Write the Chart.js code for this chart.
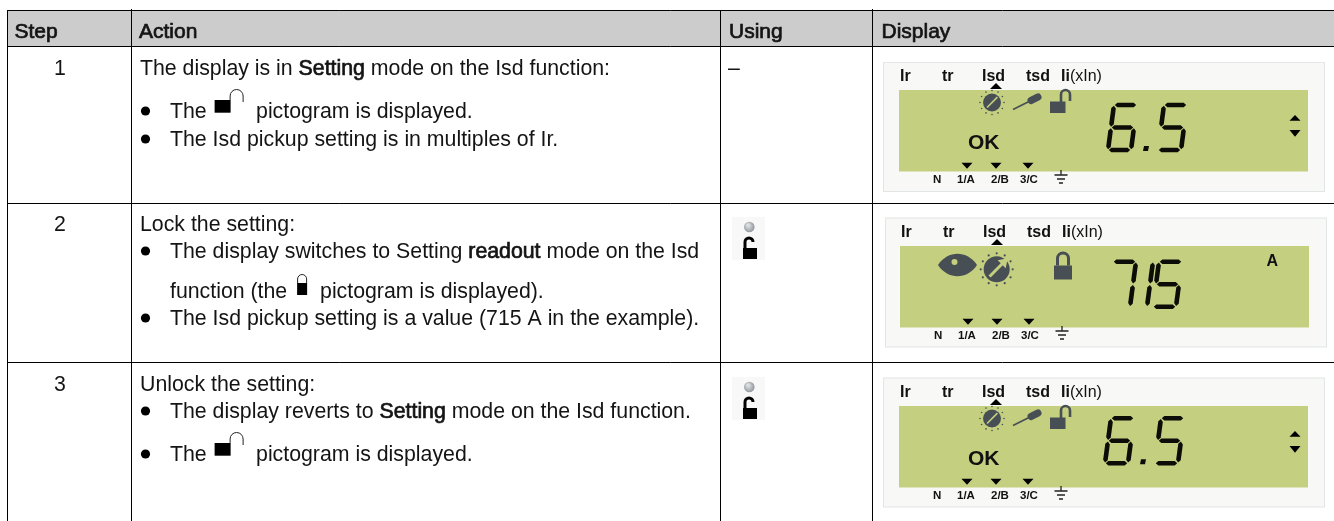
<!DOCTYPE html>
<html>
<head>
<meta charset="utf-8">
<style>
  html, body { margin: 0; background: #fff; }
  canvas { display: block; }
</style>
<script src="https://cdn.jsdelivr.net/npm/chart.js@4/dist/chart.umd.min.js"></script>
</head>
<body>
<canvas id="stepsTable" width="1334" height="521"></canvas>
<script>
// table content
const columnHeaders = ["Step", "Action", "Using", "Display"];
const stepNumbers = ["1", "2", "3"];
const actionIntro = [
  [["The display is in "], ["Setting", true], [" mode on the Isd function:"]],
  [["Lock the setting:"]],
  [["Unlock the setting:"]],
];
const actionBullets = [
  [["The "], ["@open"], [" pictogram is displayed."]],
  [["The Isd pickup setting is in multiples of Ir."]],
  [["The display switches to Setting "], ["readout", true], [" mode on the Isd"]],
  [["function (the "], ["@closed"], [" pictogram is displayed)."]],
  [["The Isd pickup setting is a value (715 A in the example)."]],
  [["The display reverts to "], ["Setting", true], [" mode on the Isd function."]],
  [["The "], ["@open"], [" pictogram is displayed."]],
];
const usingDash = "–";
const lcdTopLabels = ["Ir", "tr", "Isd", "tsd", "Ii"];
const lcdTopSuffix = "(xIn)";
const lcdBottomLabels = ["N", "1/A", "2/B", "3/C"];
const lcdReadings = ["6.5", "715", "6.5"];
const lcdUnits = ["", "A", ""];
const lcdStatus = ["OK", "", "OK"];

// layout, in picture pixels
const columnEdges = [7.5, 131.5, 720.5, 872.5];
const rowEdges = [10.5, 46.5, 203.5, 362.5];
const introBaselines = [75, 231, 391];
const bulletBaselines = [118, 146, 258, 298, 325, 418, 461];
const hasBullet = [true, true, true, false, true, true, true];
const stepBaselines = [75, 231, 391];
const cardOrigins = [[884, 63], [886, 218.5], [884, 378.5]];
const lcdOrigins = [[899, 90], [900, 246], [899, 406]];
const digitOffsets = [[209, 245, 259], [207, 224, 253], [206, 242, 256]];
const digitTops = [15, 15.7, 12.3];
const usingOrigins = [[732, 217], [732, 377]];

const FONT = '"Liberation Sans", Arial, sans-serif';
const INK = "#141414";
const LCD_INK = "#474f55";
const LCD_BG = "#c5cf80";
const BODY_SIZE = 21.3;

function rectSet(x0, y0, x1, y1, color, order) {
  return {
    data: [{ x: x0, y: y0 }, { x: x1, y: y0 }, { x: x1, y: y1 }, { x: x0, y: y1 }, { x: x0, y: y0 }],
    showLine: true, fill: "shape", backgroundColor: color, borderColor: color,
    borderWidth: 0, pointRadius: 0, order, clip: false,
  };
}

function ruleSet() {
  const data = [];
  rowEdges.forEach((y) => {
    data.push({ x: columnEdges[0], y }, { x: 1334, y }, { x: NaN, y: NaN });
  });
  columnEdges.forEach((x, i) => {
    data.push({ x, y: i % 2 ? 9 : rowEdges[0] }, { x, y: 521 }, { x: NaN, y: NaN });
  });
  return { data, showLine: true, borderColor: "#000", borderWidth: 1, pointRadius: 0, order: 1, clip: false };
}

function buildDatasets() {
  const sets = [rectSet(columnEdges[0], rowEdges[0], 1334, rowEdges[1], "#cccccc", 9)];
  cardOrigins.forEach(([x, y]) => {
    sets.push(rectSet(x - 1, y - 1, x + 441, y + 129, "#e2e6e6", 8));
    sets.push(rectSet(x, y, x + 440, y + 128, "#f8f8f6", 7));
  });
  lcdOrigins.forEach(([x, y]) => {
    sets.push(rectSet(x, y, x + 409, y + 81.5, LCD_BG, 6));
  });
  usingOrigins.forEach(([x, y]) => {
    sets.push(rectSet(x, y, x + 33, y + 43, "#f8f8f8", 6));
  });
  sets.push(ruleSet());
  return sets;
}

const tablePlugin = {
  id: "tablePlugin",
  afterDatasetsDraw(chart) {
    const ctx = chart.ctx;
    const X = (v) => chart.scales.x.getPixelForValue(v);
    const Y = (v) => chart.scales.y.getPixelForValue(v);

    function poly(points, color) {
      ctx.fillStyle = color;
      ctx.beginPath();
      points.forEach(([x, y], i) => (i ? ctx.lineTo(X(x), Y(y)) : ctx.moveTo(X(x), Y(y))));
      ctx.closePath();
      ctx.fill();
    }
    function triUp(cx, y0, y1, w) {
      poly([[cx - w / 2, y1], [cx + w / 2, y1], [cx, y0]], "#000");
    }
    function triDown(cx, y0, y1, w) {
      poly([[cx - w / 2, y0], [cx + w / 2, y0], [cx, y1]], "#000");
    }
    function label(text, x, y, font, color) {
      ctx.font = font;
      ctx.fillStyle = color || "#111";
      ctx.fillText(text, X(x), Y(y));
    }
    function strong(text, x, y, size) {
      ctx.font = size + "px " + FONT;
      ctx.fillStyle = INK;
      ctx.strokeStyle = INK;
      ctx.lineWidth = 0.7;
      ctx.fillText(text, X(x), Y(y));
      ctx.strokeText(text, X(x), Y(y));
    }

    // pictograms inside the running text
    function openLock(x, base) {
      ctx.fillStyle = "#000";
      ctx.fillRect(X(x), Y(base - 18), 16, 12.7);
      ctx.strokeStyle = "#222";
      ctx.lineWidth = 1;
      ctx.beginPath();
      ctx.moveTo(X(x + 15.5), Y(base - 18));
      ctx.lineTo(X(x + 15.5), Y(base - 22));
      ctx.arc(X(x + 22), Y(base - 22), 6.5, Math.PI, 0);
      ctx.lineTo(X(x + 28.5), Y(base - 16));
      ctx.stroke();
    }
    function closedLock(x, base) {
      ctx.fillStyle = "#000";
      ctx.fillRect(X(x), Y(base - 15), 10, 12);
      ctx.strokeStyle = "#222";
      ctx.lineWidth = 1;
      ctx.beginPath();
      ctx.moveTo(X(x + 0.5), Y(base - 15));
      ctx.lineTo(X(x + 0.5), Y(base - 19));
      ctx.arc(X(x + 5), Y(base - 19), 4.5, Math.PI, 0);
      ctx.lineTo(X(x + 9.5), Y(base - 15));
      ctx.stroke();
    }

    function textRuns(runs, x, base) {
      let cx = x;
      runs.forEach(([text, bold]) => {
        if (text === "@open") {
          openLock(cx + 2, base);
          cx += 37.5;
          return;
        }
        if (text === "@closed") {
          closedLock(cx + 4, base);
          cx += 21;
          return;
        }
        if (bold) strong(text, cx, base, BODY_SIZE);
        else label(text, cx, base, BODY_SIZE + "px " + FONT, INK);
        cx += ctx.measureText(text).width;
      });
    }

    // seven segment readout
    const SEGMENTS = { 1: "bc", 5: "afgcd", 6: "afgedc", 7: "abc" };
    function segment(x0, y0, x1, y1, t) {
      const dx = x1 - x0;
      const dy = y1 - y0;
      const len = Math.hypot(dx, dy);
      const ux = dx / len;
      const uy = dy / len;
      const nx = -uy * t / 2;
      const ny = ux * t / 2;
      const g = 0.8;
      const ax = x0 + ux * g;
      const ay = y0 + uy * g;
      const bx = x1 - ux * g;
      const by = y1 - uy * g;
      const e = t * 0.55;
      poly([
        [ax, ay],
        [ax + ux * e + nx, ay + uy * e + ny],
        [bx - ux * e + nx, by - uy * e + ny],
        [bx, by],
        [bx - ux * e - nx, by - uy * e - ny],
        [ax + ux * e - nx, ay + uy * e - ny],
      ], "#0b0d06");
    }
    function sevenSeg(ch, x, y) {
      const w = 23;
      const h = 45;
      const slant = 6;
      const P = (u, v) => [x + u * w + (1 - v) * slant, y + v * h];
      const ends = {
        a: [P(0, 0), P(1, 0)], b: [P(1, 0), P(1, 0.5)], c: [P(1, 0.5), P(1, 1)],
        d: [P(0, 1), P(1, 1)], e: [P(0, 0.5), P(0, 1)], f: [P(0, 0), P(0, 0.5)],
        g: [P(0, 0.5), P(1, 0.5)],
      };
      SEGMENTS[ch].split("").forEach((s) => {
        const [p, q] = ends[s];
        segment(p[0], p[1], q[0], q[1], 4.6);
      });
    }

    function dial(cx, cy, r, large) {
      ctx.fillStyle = LCD_INK;
      ctx.beginPath();
      ctx.arc(X(cx), Y(cy), r, 0, Math.PI * 2);
      ctx.fill();
      const count = 12;
      for (let i = 0; i < count; i++) {
        const a = (i * Math.PI * 2) / count;
        ctx.beginPath();
        ctx.arc(X(cx + Math.cos(a) * (r + 3)), Y(cy + Math.sin(a) * (r + 3)), large ? 1.1 : 0.8, 0, Math.PI * 2);
        ctx.fill();
      }
      ctx.strokeStyle = LCD_BG;
      ctx.lineWidth = large ? 3 : 1.6;
      ctx.beginPath();
      ctx.moveTo(X(cx - r * 0.55), Y(cy + r * 0.55));
      ctx.lineTo(X(cx + r * 0.6), Y(cy - r * 0.6));
      ctx.stroke();
      if (large) {
        poly([[cx + 11, cy - 11], [cx + 1, cy - 9], [cx + 9, cy - 1]], LCD_BG);
      }
    }
    function driver(x, y) {
      ctx.strokeStyle = LCD_INK;
      ctx.lineWidth = 1.6;
      ctx.beginPath();
      ctx.moveTo(X(x), Y(y + 16));
      ctx.lineTo(X(x + 16), Y(y + 8));
      ctx.stroke();
      ctx.lineWidth = 7;
      ctx.lineCap = "round";
      ctx.beginPath();
      ctx.moveTo(X(x + 18), Y(y + 7));
      ctx.lineTo(X(x + 25), Y(y + 3.5));
      ctx.stroke();
      ctx.lineCap = "butt";
    }
    function lcdOpenLock(x, y) {
      ctx.fillStyle = LCD_INK;
      ctx.fillRect(X(x), Y(y + 12.5), 15.5, 11.5);
      ctx.strokeStyle = LCD_INK;
      ctx.lineWidth = 2.6;
      ctx.beginPath();
      ctx.moveTo(X(x + 11), Y(y + 13));
      ctx.lineTo(X(x + 11), Y(y + 5.5));
      ctx.arc(X(x + 15.5), Y(y + 5.5), 4.5, Math.PI, 0);
      ctx.lineTo(X(x + 20), Y(y + 12));
      ctx.stroke();
    }
    function lcdClosedLock(x, y) {
      ctx.fillStyle = LCD_INK;
      ctx.fillRect(X(x), Y(y + 13), 18, 14);
      ctx.strokeStyle = LCD_INK;
      ctx.lineWidth = 3;
      ctx.beginPath();
      ctx.moveTo(X(x + 3.5), Y(y + 13));
      ctx.lineTo(X(x + 3.5), Y(y + 6));
      ctx.arc(X(x + 9), Y(y + 6), 5.5, Math.PI, 0);
      ctx.lineTo(X(x + 14.5), Y(y + 13));
      ctx.stroke();
    }
    function eye(x0, x1, cy) {
      const mid = (x0 + x1) / 2;
      ctx.fillStyle = LCD_INK;
      ctx.beginPath();
      ctx.moveTo(X(x0), Y(cy));
      ctx.bezierCurveTo(X(x0 + 10), Y(cy - 15), X(x1 - 10), Y(cy - 15), X(x1), Y(cy));
      ctx.bezierCurveTo(X(x1 - 10), Y(cy + 15), X(x0 + 10), Y(cy + 15), X(x0), Y(cy));
      ctx.fill();
      ctx.fillStyle = LCD_BG;
      ctx.beginPath();
      ctx.arc(X(mid - 3), Y(cy - 3), 3, 0, Math.PI * 2);
      ctx.fill();
    }
    function ground(cx, y) {
      ctx.strokeStyle = "#222";
      ctx.lineWidth = 1.3;
      ctx.beginPath();
      ctx.moveTo(X(cx), Y(y));
      ctx.lineTo(X(cx), Y(y + 5));
      [[6.5, 5], [4, 9], [2, 13]].forEach(([half, dy]) => {
        ctx.moveTo(X(cx - half), Y(y + dy));
        ctx.lineTo(X(cx + half), Y(y + dy));
      });
      ctx.stroke();
    }
    function usingIcon(x, y) {
      const g = ctx.createRadialGradient(X(x + 16), Y(y + 8), 1, X(x + 17), Y(y + 10), 6);
      g.addColorStop(0, "#dde0e2");
      g.addColorStop(1, "#8c9198");
      ctx.fillStyle = g;
      ctx.beginPath();
      ctx.arc(X(x + 17.3), Y(y + 10), 5.3, 0, Math.PI * 2);
      ctx.fill();
      ctx.fillStyle = "#000";
      ctx.fillRect(X(x + 11), Y(y + 31), 14, 11);
      ctx.strokeStyle = "#000";
      ctx.lineWidth = 3;
      ctx.beginPath();
      ctx.moveTo(X(x + 13), Y(y + 32));
      ctx.lineTo(X(x + 13), Y(y + 25));
      ctx.arc(X(x + 17), Y(y + 25), 4, Math.PI, Math.PI * 2);
      ctx.stroke();
    }

    ctx.save();
    ctx.textBaseline = "alphabetic";
    ctx.textAlign = "left";

    // header row
    const headerX = [14.5, 139, 729, 881.5];
    columnHeaders.forEach((h, i) => strong(h, headerX[i], 38, 21));

    // step numbers
    ctx.textAlign = "center";
    stepNumbers.forEach((n, i) => label(n, 60, stepBaselines[i], BODY_SIZE + "px " + FONT, INK));
    ctx.textAlign = "left";

    // action column
    actionIntro.forEach((runs, i) => textRuns(runs, 140, introBaselines[i]));
    actionBullets.forEach((runs, i) => {
      const base = bulletBaselines[i];
      if (hasBullet[i]) {
        ctx.fillStyle = "#000";
        ctx.beginPath();
        ctx.arc(X(145.5), Y(base - 7), 4.6, 0, Math.PI * 2);
        ctx.fill();
      }
      textRuns(runs, 170, base);
    });

    // using column
    label(usingDash, 728, 75, BODY_SIZE + "px " + FONT, INK);
    usingOrigins.forEach(([x, y]) => usingIcon(x, y));

    // display column
    lcdOrigins.forEach(([lx, ly], i) => {
      const labelBase = ly - 9.3;
      const labelX = [1, 43, 83, 127, 162];
      const boldFont = "bold 16px " + FONT;
      lcdTopLabels.forEach((t, k) => label(t, lx + labelX[k], labelBase, boldFont));
      ctx.font = boldFont;
      const iiWidth = ctx.measureText(lcdTopLabels[4]).width;
      label(lcdTopSuffix, lx + labelX[4] + iiWidth, labelBase, "16px " + FONT);
      triUp(lx + 97, ly - 7, ly - 1, 12);

      const bottomX = [34, 58, 92, 121];
      lcdBottomLabels.forEach((t, k) => label(t, lx + bottomX[k], ly + 93, "bold 11.5px " + FONT));
      [68, 97, 129].forEach((dx) => triDown(lx + dx, ly + 72.7, ly + 78.7, 11));
      ground(lx + 162, ly + 80);

      if (i === 1) {
        eye(938, 977, ly + 19);
        dial(lx + 96.7, ly + 23.3, 13, true);
        lcdClosedLock(lx + 154, ly + 6.5);
        label(lcdUnits[i], 1266.5, ly + 19.7, "bold 16px " + FONT);
      } else {
        dial(lx + 93, ly + 12.5, 9, false);
        driver(lx + 114, ly + 3.5);
        lcdOpenLock(lx + 151, ly - 1);
        label(lcdStatus[i], lx + 69, ly + 58.7, "bold 21px " + FONT);
        triUp(lx + 396, ly + 25, ly + 30.7, 11);
        triDown(lx + 396, ly + 40, ly + 46.7, 11);
      }

      lcdReadings[i].split("").forEach((ch, k) => {
        const dx = digitOffsets[i][k];
        const top = ly + digitTops[i];
        if (ch === ".") {
          poly([[lx + dx, top + 41], [lx + dx + 5, top + 41], [lx + dx + 4, top + 46], [lx + dx - 1, top + 46]], "#0b0d06");
        } else {
          sevenSeg(ch, lx + dx, top);
        }
      });
    });

    ctx.restore();
  },
};

new Chart(document.getElementById("stepsTable"), {
  type: "scatter",
  data: { datasets: buildDatasets() },
  options: {
    responsive: false,
    animation: false,
    events: [],
    layout: { padding: 0 },
    elements: { line: { tension: 0 } },
    plugins: { legend: { display: false }, tooltip: { enabled: false } },
    scales: {
      x: { type: "linear", min: 0, max: 1334, display: false },
      y: { type: "linear", min: 0, max: 521, reverse: true, display: false },
    },
  },
  plugins: [tablePlugin],
});
</script>
</body>
</html>
